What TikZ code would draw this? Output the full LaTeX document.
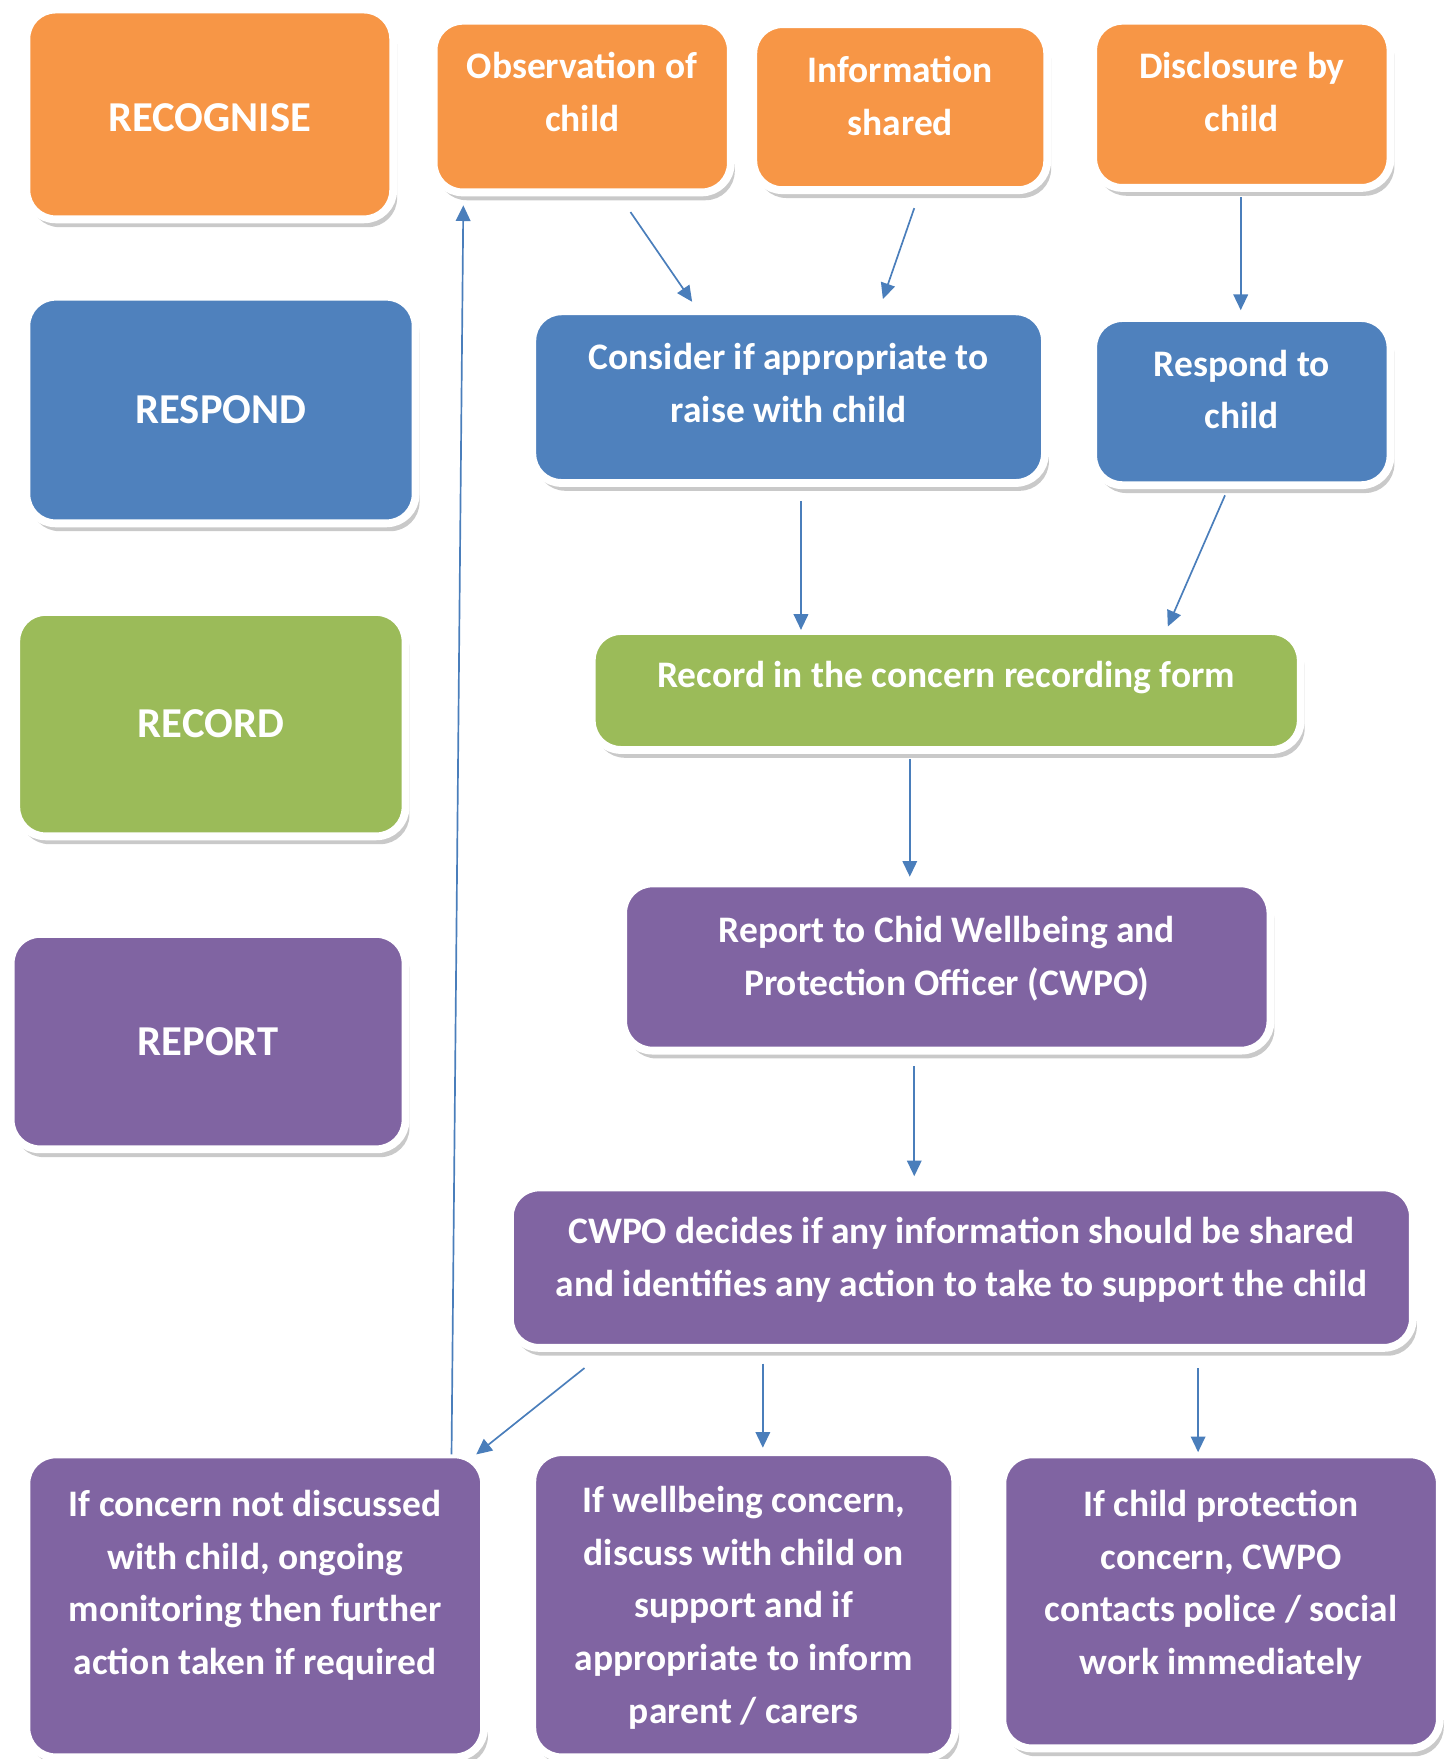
\documentclass[tikz,border=0pt]{standalone}
\usepackage{fontspec}
\setmainfont{Carlito}
\usetikzlibrary{arrows.meta,calc,shadows}
\definecolor{recognise}{HTML}{F79646}
\definecolor{respond}{HTML}{4F81BD}
\definecolor{record}{HTML}{9BBB59}
\definecolor{report}{HTML}{8064A2}
\definecolor{arrowblue}{HTML}{4A7EBB}
\begin{document}
\begin{tikzpicture}[x=0.1mm,y=-0.1mm,line join=round,
    box/.style={draw=white,line width=0.7mm,rounded corners=2.6mm,text=white,align=center,
        font=\fontsize{9.5}{13.4}\selectfont\bfseries,inner sep=0pt,
        drop shadow={shadow xshift=0.35mm,shadow yshift=-0.7mm,opacity=0.3,fill=black!70}},
    stage/.style={font=\fontsize{10.8}{13.4}\selectfont\bfseries},
    arr/.style={draw=arrowblue,line width=0.15mm,-{Triangle[length=1.4mm,width=1.3mm]}}]
    \useasboundingbox (0,0) rectangle (1295,1568);
    \node[box,stage,fill=recognise,minimum width=32.7mm,minimum height=18.7mm,text height=3mm] (recognise) at (187,102) {RECOGNISE};
    \node[box,fill=recognise,minimum width=26.5mm,minimum height=15.3mm,text depth=2.6mm] (observe) at (519,95) {Observation of\\child};
    \node[box,fill=recognise,minimum width=26.2mm,minimum height=14.8mm,text depth=2mm] (info) at (802.5,95.5) {Information\\shared};
    \node[box,fill=recognise,minimum width=26.5mm,minimum height=14.9mm,text depth=2.2mm] (disclose) at (1107,93) {Disclosure by\\child};
    \node[box,stage,fill=respond,minimum width=34.7mm,minimum height=20.2mm] (respond) at (197,365.5) {RESPOND};
    \node[box,fill=respond,minimum width=45.7mm,minimum height=15.3mm,text depth=2.6mm] (consider) at (703,354) {Consider if appropriate to\\raise with child};
    \node[box,fill=respond,minimum width=26.5mm,minimum height=14.9mm,text depth=2.2mm] (respchild) at (1107,358) {Respond to\\child};
    \node[box,stage,fill=record,minimum width=34.7mm,minimum height=20mm] (record) at (188,645.5) {RECORD};
    \node[box,fill=record,minimum width=63.2mm,minimum height=10.6mm,text depth=2.8mm] (form) at (843.5,615.5) {Record in the concern recording form};
    \node[box,stage,fill=report,minimum width=35.2mm,minimum height=19.2mm] (report) at (185.5,928.5) {REPORT};
    \node[box,fill=report,minimum width=57.7mm,minimum height=14.9mm,text depth=2.05mm] (cwpo) at (844,862) {Report to Chid Wellbeing and\\Protection Officer (CWPO)};
    \node[box,fill=report,minimum width=80.5mm,minimum height=14.3mm,text depth=2mm] (decide) at (857,1130) {CWPO decides if any information should be shared\\and identifies any action to take to support the child};
    \node[box,fill=report,minimum width=40.8mm,minimum height=27mm,text depth=4.2mm] (monitor) at (227.5,1431.5) {If concern not discussed\\with child, ongoing\\monitoring then further\\action taken if required};
    \node[box,fill=report,minimum width=37.7mm,minimum height=27.2mm,text depth=0mm] (wellbeing) at (663,1430.5) {If wellbeing concern,\\discuss with child on\\support and if\\appropriate to inform\\parent / carers};
    \node[box,fill=report,minimum width=39mm,minimum height=26.2mm,text depth=3.4mm] (protect) at (1088.5,1427.5) {If child protection\\concern, CWPO\\contacts police / social\\work immediately};
    \draw[arr] ($(observe.south)+(43,14)$) -- ($(consider.north)+(-86,-5)$);
    \draw[arr] ($(info.south)+(12.5,12.5)$) -- ($(consider.north)+(84,-7.5)$);
    \draw[arr] ($(disclose.south)+(-1,5)$) -- ($(respchild.north)+(-1,-3.5)$);
    \draw[arr] ($(consider.south)+(11,12.5)$) -- ($(form.north)+(-129.5,2.5)$);
    \draw[arr] ($(respchild.south)+(-15,5.5)$) -- ($(form.north)+(197.5,-0.5)$);
    \draw[arr] ($(form.south)+(-32.5,4.5)$) -- ($(cwpo.north)+(-33,-2.5)$);
    \draw[arr] ($(cwpo.south)+(-29,10.5)$) -- ($(decide.north)+(-42,-6.5)$);
    \draw[arr] ($(decide.south)+(-336,14.5)$) -- ($(monitor.north east)+(-10.5,3.5)$);
    \draw[arr] ($(decide.south)+(-177,10.5)$) -- ($(wellbeing.north)+(17,-0.5)$);
    \draw[arr] ($(decide.south)+(211,14.5)$) -- ($(protect.north)+(-20.5,1.5)$);
    \draw[arr] ($(monitor.north east)+(-32.5,3.5)$) -- ($(observe.south west)+(30,8)$);
\end{tikzpicture}
\end{document}
